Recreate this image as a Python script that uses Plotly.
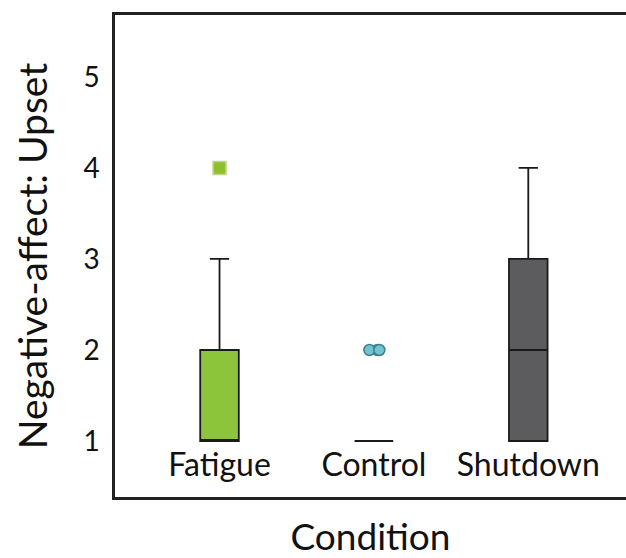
import plotly.graph_objects as go

categories = ["Fatigue", "Control", "Shutdown"]
q1 = [1, 1, 1]
median = [1, 1, 2]
q3 = [2, 1, 3]
lower = [1, 1, 1]
upper = [3, 1, 4]
box_colors = ["#8cc43c", "#9fd4dc", "#5c5c5e"]

fatigue_outliers = [4]
control_outliers = [2, 2, 2]

FONT = "Lato, 'Open Sans', sans-serif"

fig = go.Figure()
for i, c in enumerate(categories):
    fig.add_trace(go.Box(
        x=[c], q1=[q1[i]], median=[median[i]], q3=[q3[i]],
        lowerfence=[lower[i]], upperfence=[upper[i]],
        fillcolor=box_colors[i], line=dict(color="#1a1a1a", width=1.8),
        width=0.25, whiskerwidth=0.5, boxpoints=False, showlegend=False,
        hoverinfo="skip"))

fig.add_trace(go.Box(
    x=["Fatigue"] * len(fatigue_outliers), y=fatigue_outliers,
    boxpoints="all", jitter=0, pointpos=0,
    fillcolor="rgba(0,0,0,0)", line=dict(width=0, color="rgba(0,0,0,0)"),
    marker=dict(color="#8fbf2a", size=13, symbol="square",
                line=dict(color="#c4d29a", width=1.5)),
    showlegend=False, width=0.26))

fig.add_trace(go.Box(
    x=["Control"] * len(control_outliers), y=control_outliers,
    boxpoints="all", jitter=0.35, pointpos=0,
    fillcolor="rgba(0,0,0,0)", line=dict(width=0, color="rgba(0,0,0,0)"),
    marker=dict(color="#72c4d2", size=11,
                line=dict(color="#3f7f86", width=1.5)),
    showlegend=False, width=0.26))

fig.update_layout(
    width=626, height=558,
    margin=dict(l=115, r=0, t=15, b=61),
    paper_bgcolor="white", plot_bgcolor="white",
    font=dict(family=FONT, color="#111111"),
    xaxis=dict(
        type="category", categoryorder="array", categoryarray=categories,
        range=[-0.677, 2.633], showgrid=False, zeroline=False, automargin=False,
        showline=True, linecolor="#222222", linewidth=2.5, mirror=True,
        ticks="", ticklabelposition="inside", ticklabelstandoff=18,
        tickfont=dict(size=32, family=FONT, color="#111111"),
        title=dict(text="Condition", font=dict(size=37, family=FONT, color="#111111"), standoff=45),
    ),
    yaxis=dict(
        range=[0.385, 5.68], tickvals=[1, 2, 3, 4, 5], showgrid=False,
        zeroline=False, showline=True, linecolor="#222222", linewidth=2.5,
        mirror=True, ticks="", ticklabelstandoff=7, automargin=False,
        tickfont=dict(size=28, family=FONT, color="#111111"),
        title=dict(text="Negative-affect: Upset", font=dict(size=39, family=FONT, color="#111111"), standoff=24),
    ),
)

fig.write_html("out.html")
